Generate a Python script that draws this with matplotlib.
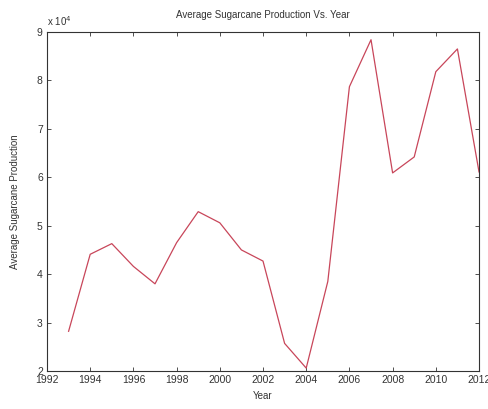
import matplotlib
matplotlib.use('Agg')
import matplotlib.pyplot as plt
from matplotlib.ticker import FuncFormatter, MultipleLocator

# valeurs
years = list(range(1993, 2013))
production = [28200, 44100, 46300, 41600, 38000, 46500, 52900, 50600, 45000, 42700,
              25700, 20600, 38500, 78700, 88400, 60900, 64200, 81800, 86500, 61100]

plt.rcParams['font.family'] = ['Liberation Sans', 'DejaVu Sans']
plt.rcParams['font.size'] = 7

fig = plt.figure(figsize=(4.88, 4.09), dpi=100)
ax = fig.add_axes([0.0963, 0.0929, 0.8853, 0.8289])

ax.plot(years, production, color='#c8465a', linewidth=0.9)

ax.set_xlim(1992, 2012)
ax.set_ylim(20000, 90000)
ax.xaxis.set_major_locator(MultipleLocator(2))
ax.yaxis.set_major_locator(MultipleLocator(10000))
ax.yaxis.set_major_formatter(FuncFormatter(lambda v, p: '%d' % round(v / 1e4)))
ax.tick_params(direction='in', top=True, right=True, length=3, width=0.6,
               colors='#333333', labelsize=7.5, pad=3)
for s in ax.spines.values():
    s.set_linewidth(0.8)
    s.set_color('#333333')

ax.text(0.0, 1.012, 'x 10$^4$', transform=ax.transAxes, fontsize=7,
        color='#333333', ha='left', va='bottom')

ax.set_title('Average Sugarcane Production Vs. Year', fontsize=7, color='#333333', pad=10)
ax.set_xlabel('Year', fontsize=7, color='#333333', labelpad=4)
ax.set_ylabel('Average Sugarcane Production', fontsize=7, color='#333333', labelpad=12)

fig.savefig('out.png', dpi=100)
